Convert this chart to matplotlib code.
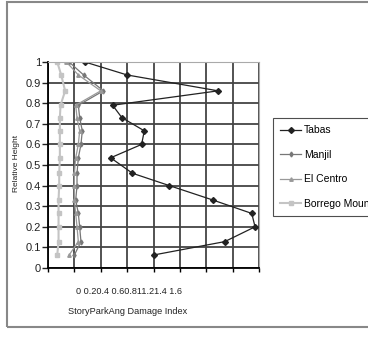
import matplotlib
matplotlib.use("Agg")
import matplotlib.pyplot as plt
from matplotlib.patches import Rectangle

# story heights (15 stories, relative)
height = [0.063, 0.128, 0.20, 0.265, 0.33, 0.40, 0.46, 0.535, 0.60, 0.666, 0.73, 0.79, 0.86, 0.937, 1.0]

# damage index per earthquake
tabas = [0.80, 1.34, 1.57, 1.545, 1.25, 0.92, 0.64, 0.475, 0.71, 0.73, 0.56, 0.49, 1.29, 0.60, 0.28]
manjil = [0.20, 0.25, 0.24, 0.23, 0.21, 0.22, 0.22, 0.23, 0.25, 0.26, 0.24, 0.23, 0.42, 0.27, 0.16]
el_centro = [0.16, 0.23, 0.22, 0.21, 0.20, 0.20, 0.20, 0.21, 0.23, 0.24, 0.22, 0.21, 0.40, 0.23, 0.14]
borrego = [0.07, 0.08, 0.08, 0.08, 0.08, 0.085, 0.085, 0.09, 0.09, 0.09, 0.09, 0.095, 0.13, 0.10, 0.07]

labels = ["Tabas", "Manjil", "El Centro", "Borrego Mountain"]
x_ticks = [0, 0.2, 0.4, 0.6, 0.8, 1.0, 1.2, 1.4, 1.6]
y_ticks = [0, 0.1, 0.2, 0.3, 0.4, 0.5, 0.6, 0.7, 0.8, 0.9, 1.0]

plt.rcParams["font.family"] = ["Liberation Sans", "DejaVu Sans"]

fig = plt.figure(figsize=(3.68, 3.41), dpi=100)
fig.patches.append(Rectangle((7 / 368, 1 - 327 / 341), 0.99, 1 - 2 / 341 - (1 - 327 / 341),
                             transform=fig.transFigure, fill=False, edgecolor="#888888", lw=1.5))

ax = fig.add_axes([48 / 368, 1 - 268 / 341, 211 / 368, 206 / 341])
ax.plot(tabas, height, color="#222222", marker="D", markersize=3, lw=0.9, label=labels[0])
ax.plot(manjil, height, color="#777777", marker="d", markersize=2.5, lw=0.9, label=labels[1])
ax.plot(el_centro, height, color="#999999", marker="^", markersize=2.5, lw=0.9, label=labels[2])
ax.plot(borrego, height, color="#c4c4c4", marker="s", markersize=2.5, lw=1.5, label=labels[3])

ax.set_xlim(0, 1.6)
ax.set_ylim(0, 1)
ax.set_xticks(x_ticks)
ax.set_xticklabels([""] * len(x_ticks))
ax.set_yticks(y_ticks)
ax.set_yticklabels(["0", "0.1", "0.2", "0.3", "0.4", "0.5", "0.6", "0.7", "0.8", "0.9", "1"], fontsize=8)
ax.tick_params(axis="y", direction="out", length=4, width=1, pad=1, colors="#222222")
ax.tick_params(axis="x", direction="out", length=3, width=1)
ax.grid(True, color="#444444", lw=1.3)
for s in ["top", "right"]:
    ax.spines[s].set_color("#aaaaaa")
ax.spines["left"].set_linewidth(1.3)
ax.spines["bottom"].set_linewidth(1.3)

fig.text(129 / 368, 1 - 291 / 341, "0 0.20.4 0.60.811.21.4 1.6", fontsize=6.6,
         ha="center", va="center", color="#222222")
fig.text(128 / 368, 1 - 312 / 341, "StoryParkAng Damage Index", fontsize=6.6,
         ha="center", va="center", color="#222222")
ax.set_ylabel("Relative Height", fontsize=6, color="#222222")
ax.yaxis.set_label_coords(-0.135, 0.51)

leg = ax.legend(loc="upper left", bbox_to_anchor=(273 / 368, 1 - 118 / 341),
                bbox_transform=fig.transFigure, fontsize=7.5, frameon=True, fancybox=False,
                edgecolor="#222222", handlelength=2.0, labelspacing=1.4, borderpad=0.7,
                handletextpad=0.3, borderaxespad=0)
leg.get_frame().set_linewidth(0.8)

fig.savefig("out.png", dpi=100)
